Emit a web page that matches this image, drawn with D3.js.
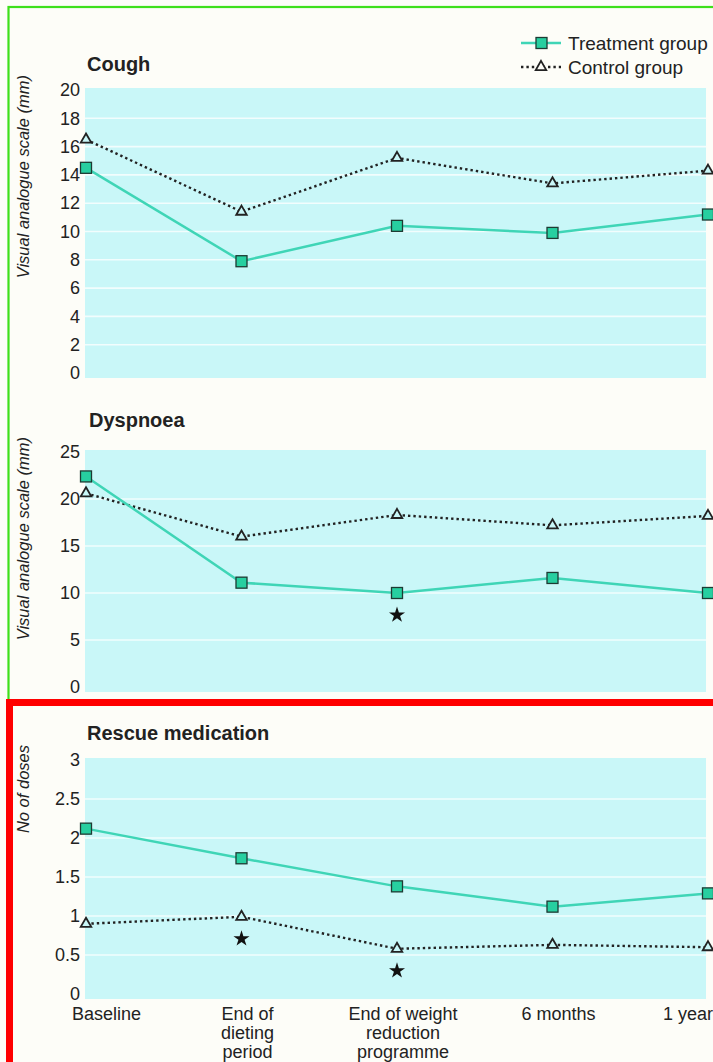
<!DOCTYPE html>
<html>
<head>
<meta charset="utf-8">
<script src="https://cdn.jsdelivr.net/npm/d3@7"></script>
<style>
  html, body { margin: 0; padding: 0; background: #fdfdf8; }
  svg { display: block; }
  text { font-family: "Liberation Sans", Arial, Helvetica, sans-serif; fill: #222; }
</style>
</head>
<body>
<svg id="chart" width="713" height="1062"></svg>
<script>
// ---------------- data ----------------
const categories = ["Baseline", "End of dieting period", "End of weight reduction programme", "6 months", "1 year"];
const categoryLines = [["Baseline"], ["End of", "dieting", "period"], ["End of weight", "reduction", "programme"], ["6 months"], ["1 year"]];

const coughTreatment = [14.5, 7.9, 10.4, 9.9, 11.2];
const coughControl   = [16.5, 11.4, 15.2, 13.4, 14.3];

const dyspnoeaTreatment = [22.4, 11.1, 10.0, 11.6, 10.0];
const dyspnoeaControl   = [20.6, 16.0, 18.3, 17.2, 18.2];

const rescueTreatment = [2.12, 1.74, 1.38, 1.12, 1.29];
const rescueControl   = [0.90, 0.99, 0.58, 0.63, 0.60];

const coughTicks    = [0, 2, 4, 6, 8, 10, 12, 14, 16, 18, 20];
const dyspnoeaTicks = [0, 5, 10, 15, 20, 25];
const rescueTicks   = [0, 0.5, 1, 1.5, 2, 2.5, 3];

// significance markers: series, category index
const dyspnoeaStars = [{ series: "treatment", index: 2 }];
const rescueStars   = [{ series: "control", index: 1 }, { series: "control", index: 2 }];

const seriesNames = ["Treatment group", "Control group"];

// ---------------- layout / style ----------------
const svg = d3.select("#chart");
const TEAL = "#3fd5b6";
const SQ_FILL = "#27cfa0";
const CYAN = "#c9f7f8";
const DARK = "#222";

const x = d3.scalePoint().domain(categories).range([86, 708]);

// frames
svg.append("rect").attr("x", 8.5).attr("y", 7).attr("width", 760).attr("height", 760)
  .attr("fill", "none").attr("stroke", "#3ee01a").attr("stroke-width", 2.2);

const panels = [
  { title: "Cough", yTitle: "Visual analogue scale (mm)", domain: [0, 20], range: [373, 90], ticks: coughTicks,
    treatment: coughTreatment, control: coughControl, stars: [], titleX: 87, titleY: 71 },
  { title: "Dyspnoea", yTitle: "Visual analogue scale (mm)", domain: [0, 25], range: [687, 452], ticks: dyspnoeaTicks,
    treatment: dyspnoeaTreatment, control: dyspnoeaControl, stars: dyspnoeaStars, titleX: 89, titleY: 427 },
  { title: "Rescue medication", yTitle: "No of doses", domain: [0, 3], range: [994, 760], ticks: rescueTicks,
    treatment: rescueTreatment, control: rescueControl, stars: rescueStars, titleX: 87, titleY: 740 }
];

svg.append("rect").attr("x", 9.5).attr("y", 702.5).attr("width", 760).attr("height", 363)
  .attr("fill", "#fdfdf8").attr("stroke", "#ff0000").attr("stroke-width", 7);

const x0 = x(categories[0]), x1 = x(categories[categories.length - 1]);

panels.forEach(p => {
  const y = d3.scaleLinear().domain(p.domain).range(p.range);
  const g = svg.append("g");

  g.append("rect")
    .attr("x", x0 - 1).attr("y", p.range[1] - 2)
    .attr("width", (x1 - 2) - (x0 - 1)).attr("height", (p.range[0] + 5) - (p.range[1] - 2))
    .attr("fill", CYAN);

  g.selectAll(".grid").data(p.ticks.filter(t => t !== p.domain[0] && t !== p.domain[1])).enter()
    .append("line")
    .attr("x1", x0 - 1).attr("x2", x1 - 2)
    .attr("y1", d => y(d)).attr("y2", d => y(d))
    .attr("stroke", "#ffffff").attr("stroke-opacity", 0.75).attr("stroke-width", 1.6);

  const axis = d3.axisLeft(y).tickValues(p.ticks).tickSize(0).tickPadding(0)
    .tickFormat(d => String(d));
  const ax = g.append("g").attr("transform", `translate(80,0)`).call(axis);
  ax.select(".domain").remove();
  ax.selectAll("text").attr("font-size", 18).attr("fill", "#333")
    .style("font-family", '"Liberation Sans", Arial, sans-serif');

  g.append("text").attr("x", p.titleX).attr("y", p.titleY)
    .attr("font-size", 20).attr("font-weight", "bold").attr("fill", "#1a1a1a").text(p.title);

  g.append("text")
    .attr("transform", `translate(29,${p.range[1] - 15}) rotate(-90)`)
    .attr("text-anchor", "end").attr("font-size", 16.5).attr("font-style", "italic")
    .attr("fill", "#333").text(p.yTitle);

  const line = d3.line().x((d, i) => x(categories[i])).y(d => y(d));

  g.append("path").datum(p.control).attr("d", line)
    .attr("fill", "none").attr("stroke", DARK).attr("stroke-width", 2.4)
    .attr("stroke-dasharray", "2.4,3");
  g.append("path").datum(p.treatment).attr("d", line)
    .attr("fill", "none").attr("stroke", TEAL).attr("stroke-width", 2.5);

  g.selectAll(".tri").data(p.control).enter().append("path")
    .attr("transform", (d, i) => `translate(${x(categories[i])},${y(d)})`)
    .attr("d", d3.symbol(d3.symbolTriangle, 48))
    .attr("fill", CYAN).attr("stroke", DARK).attr("stroke-width", 1.8);
  g.selectAll(".sq").data(p.treatment).enter().append("rect")
    .attr("x", (d, i) => x(categories[i]) - 5.5).attr("y", d => y(d) - 5.5)
    .attr("width", 11).attr("height", 11)
    .attr("fill", SQ_FILL).attr("stroke", "#1d3b33").attr("stroke-width", 1.3);

  g.selectAll(".star").data(p.stars).enter().append("path")
    .attr("transform", d => {
      const v = (d.series === "treatment" ? p.treatment : p.control)[d.index];
      return `translate(${x(categories[d.index])},${y(v) + 22})`;
    })
    .attr("d", d3.symbol(d3.symbolStar, 80))
    .attr("fill", "#111");
});

// x axis labels (bottom panel)
const xl = svg.append("g");
categoryLines.forEach((lines, i) => {
  const cx = x(categories[i]);
  let anchor = "middle", px = cx + 6;
  if (i === 0) { anchor = "start"; px = cx - 14; }
  if (i === categories.length - 1) { anchor = "end"; px = cx + 5; }
  const t = xl.append("text").attr("text-anchor", anchor).attr("font-size", 18).attr("fill", "#333");
  lines.forEach((s, k) => {
    t.append("tspan").attr("x", px).attr("y", 1020 + k * 19).text(s);
  });
});

// legend
const lg = svg.append("g");
seriesNames.forEach((name, i) => {
  const ly = 43 + i * 24;
  lg.append("line").attr("x1", 521).attr("x2", 561).attr("y1", ly).attr("y2", ly)
    .attr("stroke", i === 0 ? TEAL : DARK).attr("stroke-width", 2.4)
    .attr("stroke-dasharray", i === 0 ? null : "2.4,3");
  if (i === 0) {
    lg.append("rect").attr("x", 536).attr("y", ly - 5.5).attr("width", 11).attr("height", 11)
      .attr("fill", SQ_FILL).attr("stroke", "#1d3b33").attr("stroke-width", 1.3);
  } else {
    lg.append("path").attr("transform", `translate(541,${ly})`)
      .attr("d", d3.symbol(d3.symbolTriangle, 48))
      .attr("fill", "#fdfdf8").attr("stroke", DARK).attr("stroke-width", 1.8);
  }
  lg.append("text").attr("x", 568).attr("y", ly + 7).attr("font-size", 19).attr("fill", "#222").text(name);
});
</script>
</body>
</html>
